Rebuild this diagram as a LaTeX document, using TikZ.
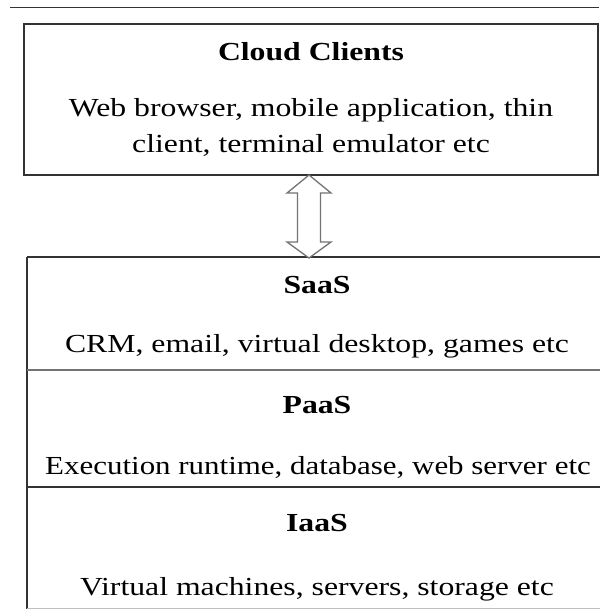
\documentclass[tikz,border=0pt]{standalone}
\usepackage{fontspec}
\usepackage{graphicx}
\setmainfont{Liberation Serif}
\newcommand{\widetext}[1]{\scalebox{1.22}[1]{#1}}
\newcommand{\tighttext}[1]{\scalebox{1.19}[1]{#1}}
\begin{document}
\begin{tikzpicture}[x=1pt,y=-1pt,
  frame/.style={draw=black!80, line width=1.1pt},
  divider/.style={draw=black!55, line width=1.6pt},
  label/.style={anchor=base, inner sep=0pt, font=\fontsize{26}{36}\selectfont},
  title/.style={label, font=\fontsize{26}{36}\selectfont\bfseries},
  hollowarrow/.style={draw=black!55, line width=1.3pt, fill=white, line join=miter}
]
\useasboundingbox (0,0) rectangle (599,609);

% rule across the top of the page
\draw[draw=black!80, line width=1.4pt] (10,7.5) -- (599,7.5);

% client box
\path[frame] (24,24) rectangle (598,175);
\node[title] (cctitle) at (311,61) {\widetext{Cloud Clients}};
\node[label] (cc1) at (311,117) {\widetext{Web browser, mobile application, thin}};
\node[label] (cc2) at (311,153) {\widetext{client, terminal emulator etc}};

% service stack
\path[frame] (27,257) -- (640,257);
\path[frame] (27,257) -- (27,608.5);
\draw[draw=black!25, line width=1pt] (27,608.5) -- (640,608.5);
\path[divider] (27,370) -- (640,370);
\path[frame] (27,487) -- (640,487);

\node[title] (saas) at (317,293) {\widetext{SaaS}};
\node[label] (saasd) at (317,352) {\widetext{CRM, email, virtual desktop, games etc}};
\node[title] (paas) at (317,413) {\widetext{PaaS}};
\node[label] (paasd) at (318,474) {\tighttext{Execution runtime, database, web server etc}};
\node[title] (iaas) at (317,531) {\widetext{IaaS}};
\node[label] (iaasd) at (317,595) {\widetext{Virtual machines, servers, storage etc}};

% two-way hollow arrow between the client box and the stack
\coordinate (tipT) at (309,175);
\coordinate (tipB) at (309,258);
\path[hollowarrow] (tipT) -- ++(-22,18) -- ++(10.5,0) |- ([xshift=-11.5pt,yshift=16pt]tipB)
  -- ++(-10.5,0) -- (tipB) -- ++(22,-16) -- ++(-10.5,0) |- ([xshift=11.5pt,yshift=-18pt]tipT)
  -- ++(10.5,0) -- cycle;
\end{tikzpicture}
\end{document}
